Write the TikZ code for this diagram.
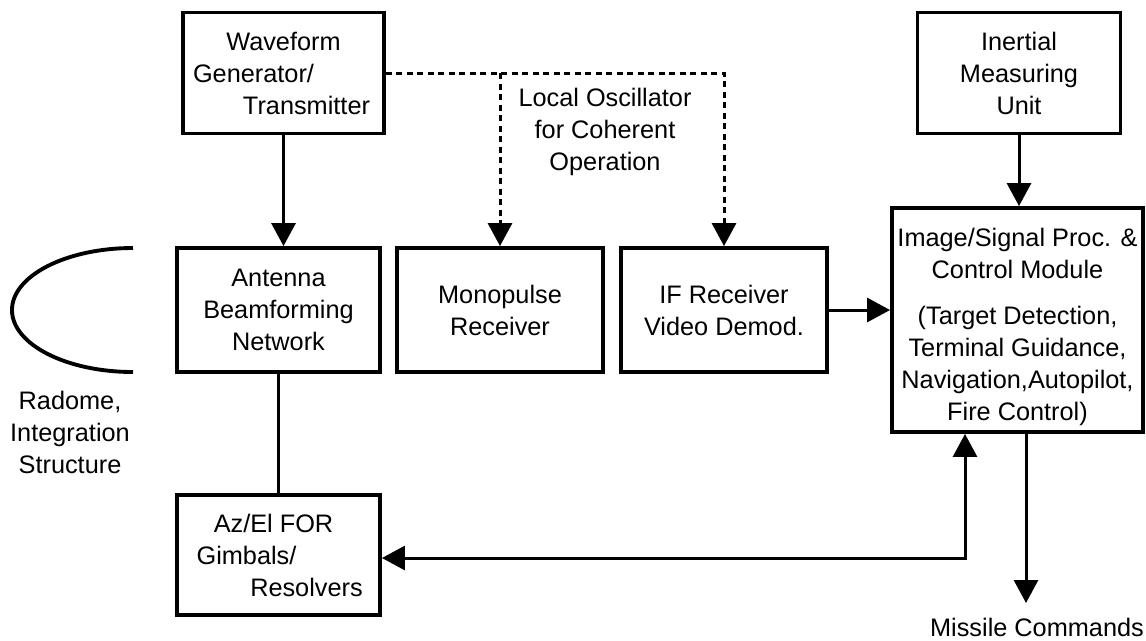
\documentclass[tikz,border=0pt]{standalone}
\usepackage{fontspec}
\setmainfont{Liberation Sans}
\usepackage{tikz}
\usetikzlibrary{arrows.meta}

\tikzset{
  block/.style={draw, line width=1.1pt, inner sep=0pt, align=center},
  arr/.style={line width=0.85pt, -{Triangle[length=2.3mm, width=2.4mm]}},
  lodash/.style={line width=0.85pt, dash pattern=on 0.6mm off 0.45mm}
}

\begin{document}
\begin{tikzpicture}[font=\fontsize{7.2}{9.1}\selectfont]
    \useasboundingbox (0,0) rectangle (11.46,-6.40);
    \node(wave)[block, minimum width=2.01cm, minimum height=1.21cm] at (2.835,-0.73) {Waveform\\Generator/\hspace*{6mm}\mbox{}\\\hspace*{4.6mm}Transmitter};
    \node(imu)[block, minimum width=2.03cm, minimum height=1.21cm] at (10.19,-0.73) {Inertial\\Measuring\\Unit};
    \node(ant)[block, minimum width=2.03cm, minimum height=1.24cm] at (2.785,-3.10) {Antenna\\Beamforming\\Network};
    \node(mono)[block, minimum width=2.06cm, minimum height=1.24cm] at (5.0,-3.10) {Monopulse\\Receiver};
    \node(ifrx)[block, minimum width=2.06cm, minimum height=1.24cm] at (7.24,-3.10) {IF Receiver\\Video Demod.};
    \node(proc)[block, minimum width=2.51cm, minimum height=2.24cm] at (10.175,-3.20) {\rule{0pt}{9.2pt}Image/Signal Proc. \&\\Control Module\\[1.4mm](Target Detection,\\Terminal Guidance,\\Navigation,Autopilot,\\Fire Control)};
    \node(gimb)[block, minimum width=2.03cm, minimum height=1.2cm] at (2.785,-5.55) {Az/El FOR\hspace*{1mm}\mbox{}\\Gimbals/\hspace*{6.4mm}\mbox{}\\\hspace*{5.6mm}Resolvers};
    \node(lo)[align=center] at (6.05,-1.32) {Local Oscillator\\for Coherent\\Operation};
    \node(radome)[align=center] at (0.70,-4.32) {Radome,\\Integration\\Structure};
    \node(cmd) at (10.37,-6.27) {Missile Commands};
    \coordinate(bend) at (9.65,-5.58);
    \coordinate(out) at (10.26,-6.03);
    % radome
    \draw[line width=1.1pt] (1.33,-2.48) arc[start angle=90, end angle=270, x radius=1.21, y radius=0.62];
    \draw[arr] (wave) -- (wave |- ant.north);
    \draw[line width=0.85pt] (ant) -- (gimb);
    \draw[lodash, arr] (wave.east) -| (ifrx.north);
    \draw[lodash, arr] (wave.east -| mono.north) -- (mono.north);
    \draw[arr] (ifrx.east) -- (ifrx.east -| proc.west);
    \draw[arr] (imu) -- (imu |- proc.north);
    \draw[arr, {Triangle[length=2.3mm, width=2.4mm]}-{Triangle[length=2.3mm, width=2.4mm]}] (gimb.east |- bend) -- (bend) -- (bend |- proc.south);
    \draw[arr] (out |- proc.south) -- (out);
\end{tikzpicture}
\end{document}
